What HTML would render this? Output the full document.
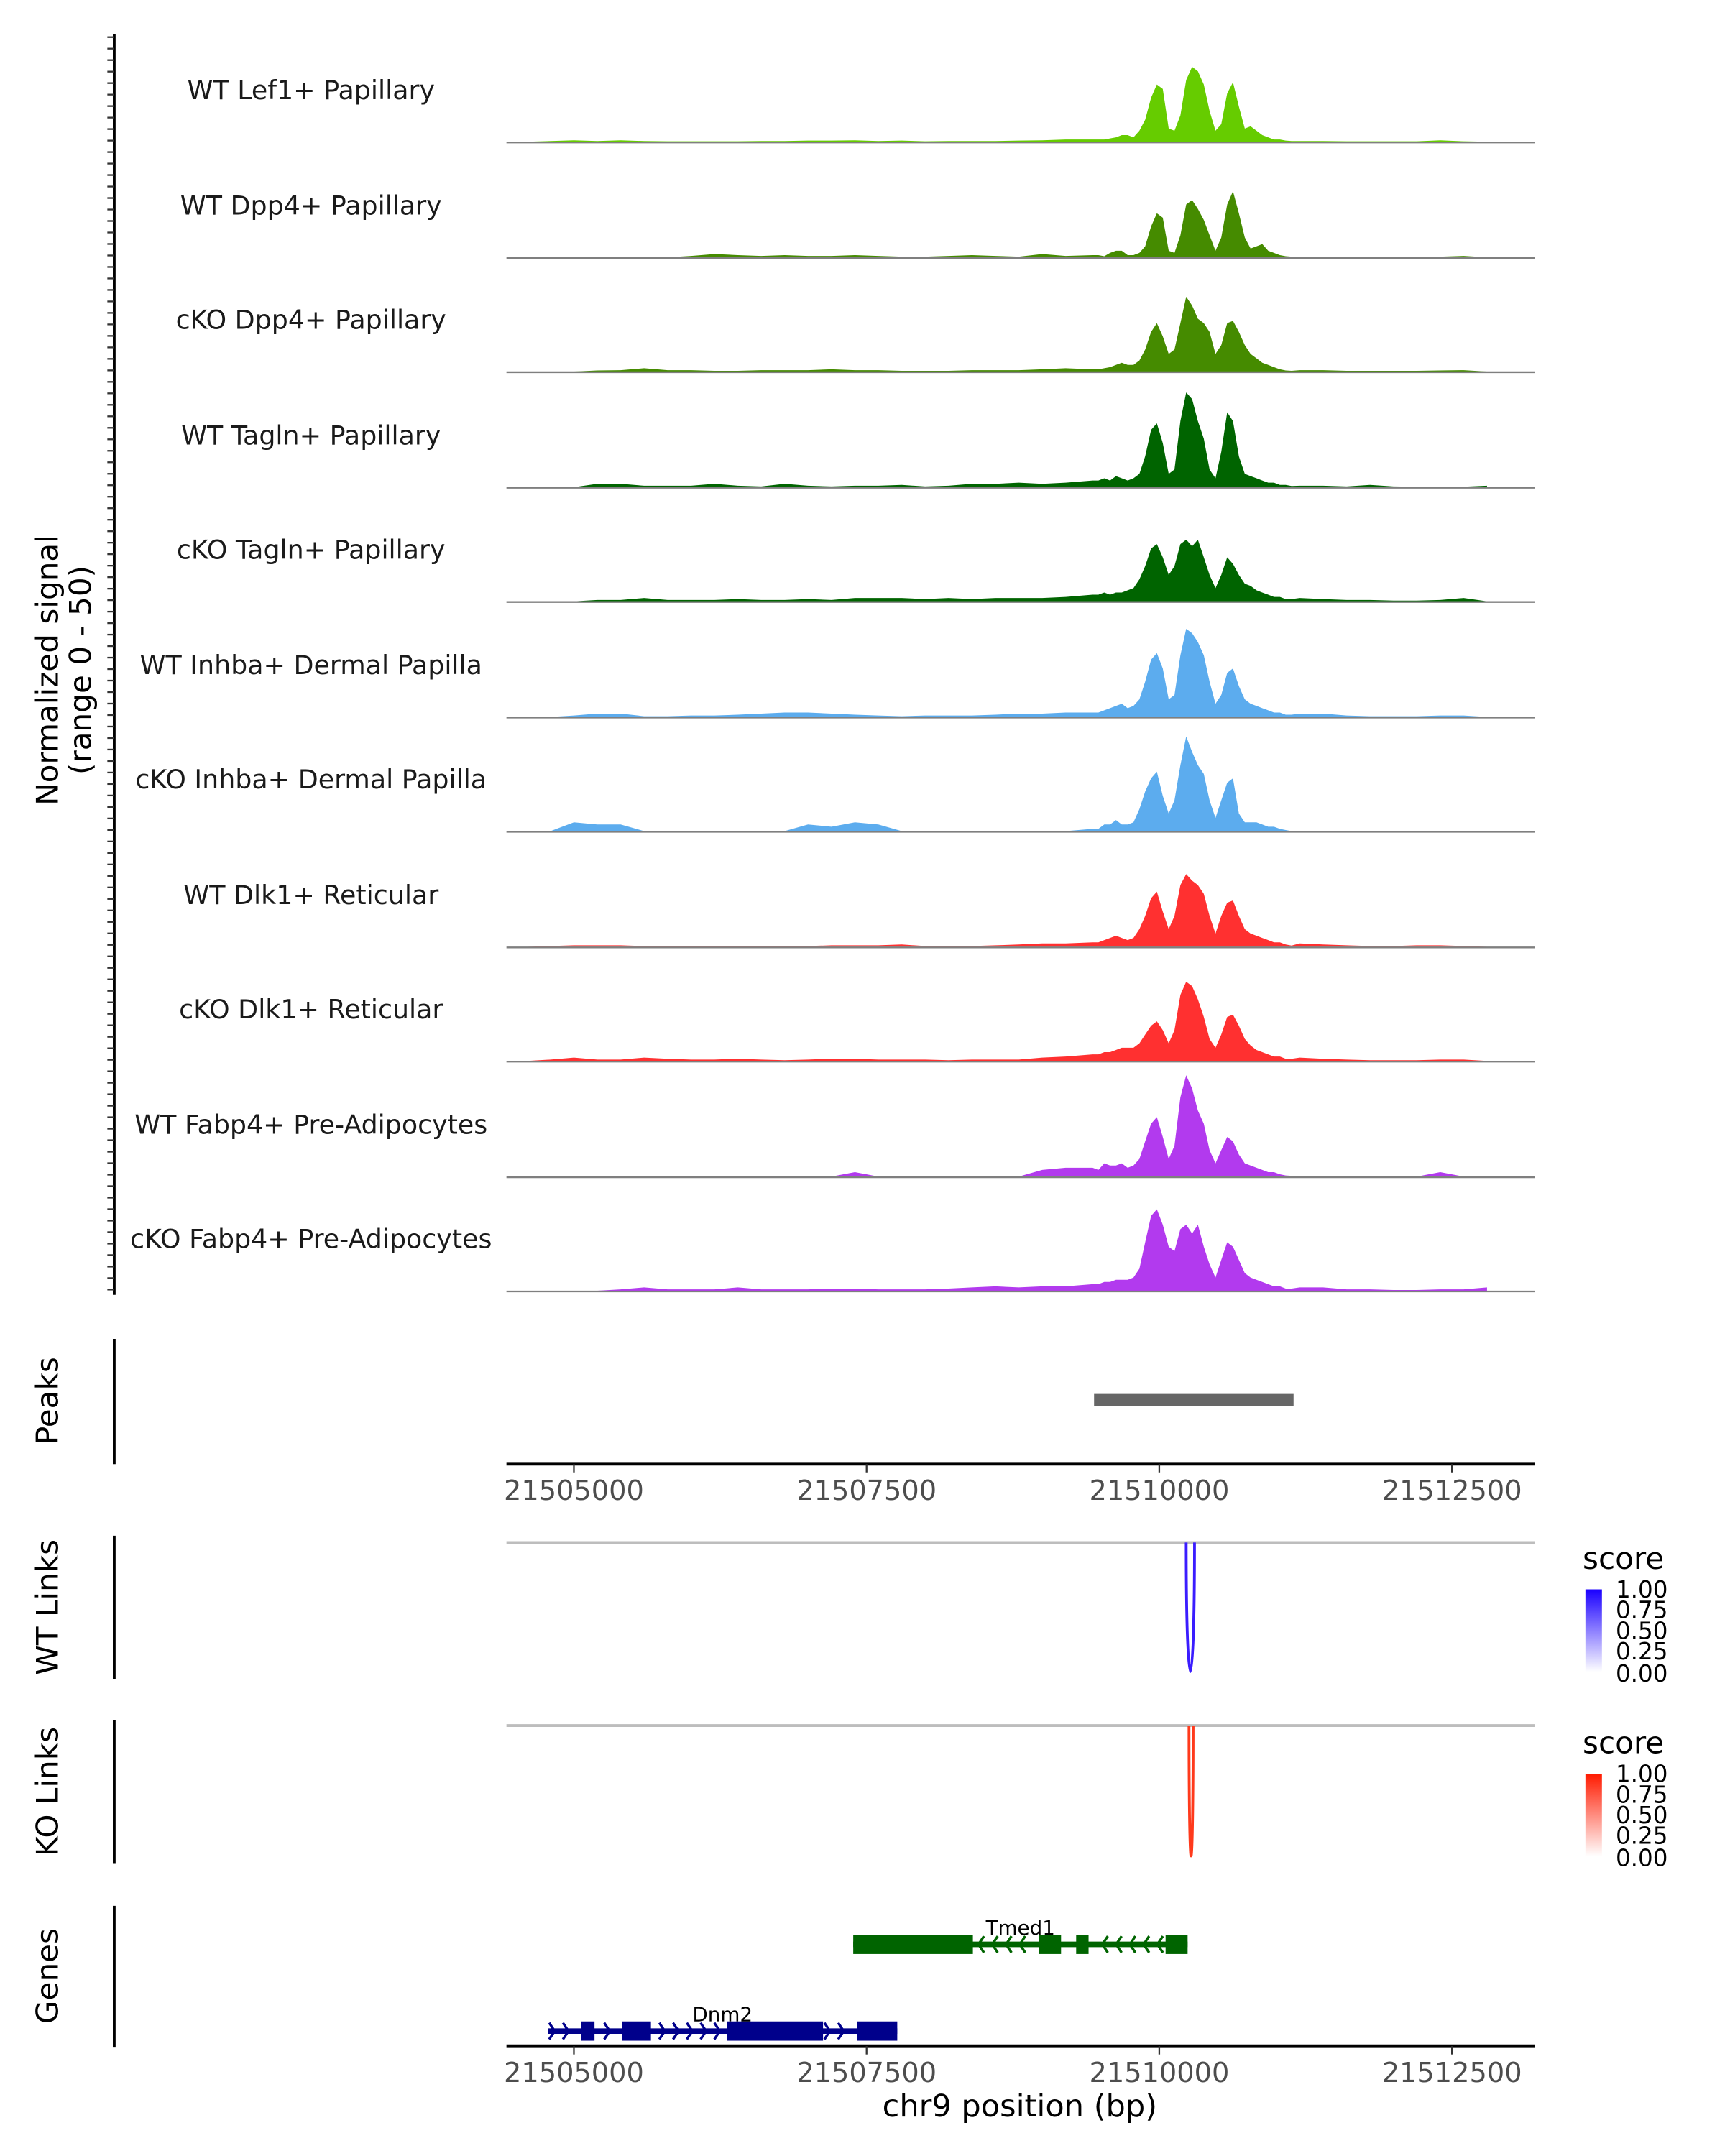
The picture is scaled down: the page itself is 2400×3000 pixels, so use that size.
<!DOCTYPE html>
<html><head><meta charset="utf-8"><style>
html,body{margin:0;padding:0;background:#fff;}
svg{display:block;font-family:"DejaVu Sans","Liberation Sans",sans-serif;}
</style></head><body>
<svg id="chart" width="2400" height="3000" viewBox="0 0 1253.4 1566.8" preserveAspectRatio="none" xmlns="http://www.w3.org/2000/svg">
<defs>
<linearGradient id="gBlue" x1="0" y1="1" x2="0" y2="0"><stop offset="0" stop-color="#ffffff"/><stop offset="1" stop-color="#1a00ff"/></linearGradient>
<linearGradient id="gRed" x1="0" y1="1" x2="0" y2="0"><stop offset="0" stop-color="#ffffff"/><stop offset="1" stop-color="#ff1a00"/></linearGradient>
</defs>
<g id="tracks"></g>
<g id="static">
<text transform="translate(42,487) rotate(-90)" text-anchor="middle" font-size="22" fill="#000">Normalized signal</text>
<text transform="translate(66,487) rotate(-90)" text-anchor="middle" font-size="22" fill="#000">(range 0 - 50)</text>
<text transform="translate(42,1018) rotate(-90)" text-anchor="middle" font-size="22">Peaks</text>
<line x1="83" y1="973" x2="83" y2="1064" stroke="#000" stroke-width="2"/>
<text transform="translate(42,1168) rotate(-90)" text-anchor="middle" font-size="22">WT Links</text>
<line x1="83" y1="1116" x2="83" y2="1220" stroke="#000" stroke-width="2"/>
<text transform="translate(42,1302) rotate(-90)" text-anchor="middle" font-size="22">KO Links</text>
<line x1="83" y1="1250" x2="83" y2="1354" stroke="#000" stroke-width="2"/>
<text transform="translate(42,1436) rotate(-90)" text-anchor="middle" font-size="22">Genes</text>
<line x1="83" y1="1385" x2="83" y2="1488" stroke="#000" stroke-width="2"/>
<line x1="368" y1="1121" x2="1115" y2="1121" stroke="#bdbdbd" stroke-width="2"/>
<line x1="368" y1="1254" x2="1115" y2="1254" stroke="#bdbdbd" stroke-width="2"/>
<text x="1150" y="1140" font-size="22">score</text>
<rect x="1152" y="1155" width="12" height="60" fill="url(#gBlue)"/>
<g font-size="17">
<text x="1174" y="1161">1.00</text><text x="1174" y="1176">0.75</text><text x="1174" y="1191">0.50</text><text x="1174" y="1206">0.25</text><text x="1174" y="1222">0.00</text></g>
<text x="1150" y="1274" font-size="22">score</text>
<rect x="1152" y="1289" width="12" height="60" fill="url(#gRed)"/>
<g font-size="17">
<text x="1174" y="1295">1.00</text><text x="1174" y="1310">0.75</text><text x="1174" y="1325">0.50</text><text x="1174" y="1340">0.25</text><text x="1174" y="1356">0.00</text></g>
<text x="741" y="1538" text-anchor="middle" font-size="22.5">chr9 position (bp)</text>
</g>
</svg>
<script>
const xTicks=[21505000,21507500,21510000,21512500];
const trackNames=["WT Lef1+ Papillary","WT Dpp4+ Papillary","cKO Dpp4+ Papillary","WT Tagln+ Papillary","cKO Tagln+ Papillary","WT Inhba+ Dermal Papilla","cKO Inhba+ Dermal Papilla","WT Dlk1+ Reticular","cKO Dlk1+ Reticular","WT Fabp4+ Pre-Adipocytes","cKO Fabp4+ Pre-Adipocytes"];
const trackColors=["#66cc00","#458b00","#458b00","#006400","#006400","#5cacee","#5cacee","#ff3030","#ff3030","#b23aee","#b23aee"];
const leftPos=[21504600,21504800,21505000,21505200,21505400,21505600,21505800,21506000,21506200,21506400,21506600,21506800,21507000,21507200,21507400,21507600,21507800,21508000,21508200,21508400,21508600,21508800,21509000,21509200];
const mainPos=[21509430,21509480,21509530,21509580,21509630,21509680,21509730,21509780,21509830,21509880,21509930,21509980,21510030,21510080,21510130,21510180,21510230,21510280,21510330,21510380,21510430,21510480,21510530,21510580,21510630,21510680,21510730,21510780,21510830,21510880,21510930,21510980,21511030,21511080,21511130];
const rightPos=[21511200,21511400,21511600,21511800,21512000,21512200,21512400,21512600,21512800];
const leftBg=[
[0,0.3,0.6,0.3,0.6,0.3,0.2,0.2,0.2,0.2,0.3,0.3,0.5,0.5,0.6,0.3,0.5,0.2,0.3,0.3,0.3,0.5,0.6,1],
[0,0,0,0.3,0.3,0,0,0.6,1.5,1,0.6,1,0.6,0.6,1,0.6,0.3,0.3,0.6,1,0.6,0.3,1.5,0.6],
[0,0,0,0.5,0.6,1.5,0.6,0.6,0.3,0.3,0.6,0.6,0.6,1,0.6,0.6,0.3,0.3,0.3,0.6,0.6,0.6,1,1.5],
[0,0,0,1.5,1.5,0.6,0.6,0.6,1.5,0.6,0.3,1.5,0.6,0.3,0.6,0.6,1,0.3,0.6,1.5,1.5,2,1.5,2],
[0,0,0,0.6,0.6,1.5,0.6,0.6,0.6,1,0.6,0.6,1,0.6,1.5,1.5,1.5,1,1.5,1,1.5,1.5,1.5,2],
[0,0,0.6,1.5,1.5,0.3,0.3,0.6,0.6,1,1.5,2,2,1.5,1,0.6,0.3,0.6,0.6,0.6,1,1.5,1.5,2],
[0,0,4,3,3,0,0,0,0,0,0,0,3,2,4,3,0,0,0,0,0,0,0,0],
[0,0.3,0.6,0.6,0.6,0.3,0.3,0.3,0.3,0.3,0.3,0.3,0.3,0.6,0.6,0.6,1,0.3,0.3,0.3,0.6,1,1.5,1.5],
[0,0.6,1.5,0.6,0.6,1.5,1,0.6,0.6,1,0.6,0.3,0.6,1,1,0.6,0.6,0.6,0.3,0.6,0.6,0.6,1.5,2],
[0,0,0,0,0,0,0,0,0,0,0,0,0,0,2,0,0,0,0,0,0,0,3,4],
[0,0,0,0,0.6,1.5,0.6,0.6,0.6,1.5,0.6,0.6,0.6,1,1,0.6,0.6,0.6,1,1.5,2,1.5,2,2]];
const mainVals=[
[1,1,1,1.5,2,3,3,2,5,10,20,26,24,6,5,12,28,34,32,26,14,5,8,22,27,16,6,7,5,3,2,1,1,0.5,0.3],
[1,1,0.5,2,3,3,1,1,2,5,14,20,18,3,2,10,24,26,22,17,10,3,9,24,30,20,9,4,5,6,3,2,1,0.5,0.3],
[1,1,1.5,2,3,4,3,3,5,10,18,22,16,8,10,22,34,30,24,22,18,8,12,22,23,18,12,8,6,4,3,2,1,0.5,0.3],
[3,3,4,3,5,4,3,4,6,14,26,29,20,6,8,30,43,40,30,22,8,4,16,34,30,14,6,5,4,3,2,2,1,1,0.5],
[3,3,4,3,4,4,5,6,10,16,24,26,20,12,16,26,28,25,28,20,12,6,12,20,17,12,8,7,5,4,3,2,2,1,1],
[2,2,3,4,5,6,4,5,8,16,26,29,22,8,10,28,40,38,34,28,16,6,10,20,22,14,8,6,5,4,3,2,2,1,1],
[1,1,3,3,5,3,3,4,10,18,24,27,16,8,14,30,43,36,30,26,14,6,14,22,24,8,4,4,4,3,2,2,1,0.5,0],
[2,2,3,4,5,4,3,4,8,14,22,25,16,8,14,28,33,30,28,24,14,6,14,20,21,14,8,6,5,4,3,2,2,1,0.5],
[3,3,4,4,5,6,6,6,8,12,16,18,14,8,14,30,36,34,28,20,10,6,12,20,21,16,10,7,5,4,3,2,2,1,1],
[4,3,6,5,5,6,4,5,8,16,24,27,18,8,14,36,46,40,30,24,12,6,12,18,16,10,6,5,4,3,2,2,1,0.5,0.3],
[3,3,4,4,5,5,5,6,10,22,34,37,30,20,18,28,30,26,30,20,12,6,14,22,20,14,8,6,5,4,3,2,2,1,1]];
const rightBg=[
[0.3,0.3,0.2,0.2,0.2,0.2,0.6,0.2,0],
[0.3,0.3,0.2,0.3,0.3,0.2,0.3,0.6,0],
[0.6,0.6,0.3,0.3,0.3,0.3,0.5,0.6,0],
[0.6,0.6,0.3,1,0.3,0.2,0.2,0.2,0.6],
[1.5,1,0.6,0.6,0.3,0.3,0.6,1.5,0],
[1.5,1.5,0.6,0.3,0.3,0.3,0.6,0.6,0],
[0,0,0,0,0,0,0,0,0],
[1.5,1,0.6,0.3,0.3,0.6,0.6,0.3,0],
[1.5,1,0.6,0.3,0.3,0.3,0.6,0.6,0],
[0,0,0,0,0,0,2,0,0],
[1.5,1.5,0.6,0.6,0.3,0.3,0.6,0.6,1.5]];
const peakRanges=[[21509443,21511147]];
const wtLinks=[[21510230,21510301,1.0]];
const koLinks=[[21510254,21510289,1.0]];
const tmed1Span=[21507386,21510242];
const tmed1Exons=[[21507386,21508408],[21508973,21509161],[21509290,21509396],[21510054,21510242]];
const dnm2Span=[21504777,21507762];
const dnm2Exons=[[21505059,21505176],[21505411,21505658],[21506305,21507128],[21507421,21507762]];

const NS="http://www.w3.org/2000/svg";
const svg=document.getElementById('chart');
const X0=368,X1=1115,D0=21504424,D1=21513205;
function xs(bp){return X0+(bp-D0)/(D1-D0)*(X1-X0);}
const baselines=[103,187,270,354,437,521,604,688,771,855,938];
const yUnit=80/50;
function el(tag,attrs,parent){const e=document.createElementNS(NS,tag);for(const k in attrs)e.setAttribute(k,attrs[k]);(parent||svg).appendChild(e);return e;}

const allPos=leftPos.concat(mainPos,rightPos);
const tg=document.getElementById('tracks');
for(let t=0;t<trackNames.length;t++){
  const vals=leftBg[t].concat(mainVals[t],rightBg[t]);
  const b=baselines[t];
  let d="M"+xs(allPos[0]).toFixed(1)+","+b;
  for(let i=0;i<allPos.length;i++){d+=" L"+xs(allPos[i]).toFixed(1)+","+(b-vals[i]*yUnit).toFixed(1);}
  d+=" L"+xs(allPos[allPos.length-1]).toFixed(1)+","+b+" Z";
  const p=el('path',{d:d,fill:trackColors[t]},tg);
  
  
  const bl=el('line',{x1:X0,x2:X1,y1:b+0.5,y2:b+0.5,stroke:'#7f7f7f','stroke-width':1.2},tg);
  
  
  const lb=el('text',{x:226,y:b-31,'text-anchor':'middle','font-size':19,fill:'#1a1a1a'},tg);
  lb.textContent=trackNames[t];
  
  
}
const ax=el('line',{x1:83,y1:25,x2:83,y2:941,stroke:'#000','stroke-width':2});


for(let y=27;y<=940;y+=8.35){
  const tk=el('line',{x1:78,x2:83,y1:y,y2:y,stroke:'#333','stroke-width':1.2});
  
  
}
for(const pr of peakRanges){
  const r=el('rect',{x:xs(pr[0]),y:1013,width:xs(pr[1])-xs(pr[0]),height:9,fill:'#666'});
  
  
}
function xAxis(y,thick,name){
  const a=el('line',{x1:X0,x2:X1,y1:y,y2:y,stroke:'#000','stroke-width':thick});
  
  
  for(const v of xTicks){
    const tk=el('line',{x1:xs(v),x2:xs(v),y1:y,y2:y+6,stroke:'#333','stroke-width':1.2});
    
    
    const tl=el('text',{x:xs(v),y:y+26,'text-anchor':'middle','font-size':20,fill:'#4d4d4d'});
    tl.textContent=String(v);
    
    
  }
}
xAxis(1064,2,'peaks-x-axis');
xAxis(1487,2.5,'genes-x-axis');
function links(arr,y0,depth,color,name){
  for(const l of arr){
    const a=xs(l[0]),b=xs(l[1]);
    const p=el('path',{d:`M${a},${y0} C${a},${y0+depth*1.33} ${b},${y0+depth*1.33} ${b},${y0}`,fill:'none',stroke:color,'stroke-width':2,'stroke-opacity':l[2]});
    
    
  }
}
links(wtLinks,1121,94,'#3a1cff','wt-link-arc');
links(koLinks,1254,95,'#ff3a1c','ko-link-arc');
function gene(span,exons,y,color,strand,label,name){
  const g=el('g',{});
  
  
  el('line',{x1:xs(span[0]),x2:xs(span[1]),y1:y,y2:y,stroke:color,'stroke-width':4},g);
  for(let x=xs(span[0])+3;x<xs(span[1])-3;x+=10){
    let inEx=exons.some(e=>x>xs(e[0])-3&&x<xs(e[1])+3);
    if(inEx)continue;
    const d=strand>0?`M${x-2},${y-6} L${x+2},${y} L${x-2},${y+6}`:`M${x+2},${y-6} L${x-2},${y} L${x+2},${y+6}`;
    el('path',{d:d,fill:'none',stroke:color,'stroke-width':1.8},g);
  }
  for(const e of exons){el('rect',{x:xs(e[0]),y:y-7,width:xs(e[1])-xs(e[0]),height:14,fill:color},g);}
  const t=el('text',{x:(xs(span[0])+xs(span[1]))/2,y:y-7,'text-anchor':'middle','font-size':14.5,fill:'#000'},g);
  t.textContent=label;
}
gene(tmed1Span,tmed1Exons,1413,'#006400',-1,'Tmed1','gene-tmed1');
gene(dnm2Span,dnm2Exons,1476,'#00008b',1,'Dnm2','gene-dnm2');
</script>
</body></html>
